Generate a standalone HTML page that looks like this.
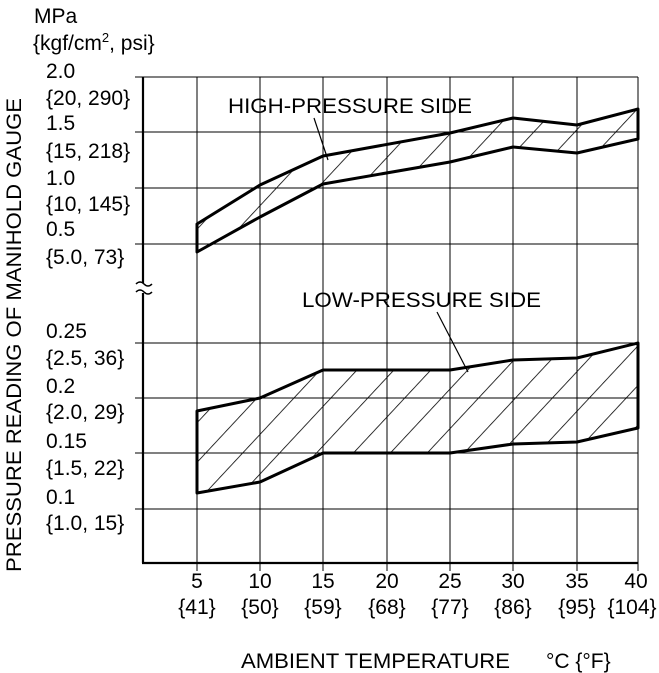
<!DOCTYPE html>
<html><head><meta charset="utf-8"><style>
html,body{margin:0;padding:0;background:#fff;}
svg{display:block;font-family:"Liberation Sans",sans-serif;}
</style></head><body>
<svg width="659" height="673" viewBox="0 0 659 673" xmlns="http://www.w3.org/2000/svg">
<defs>
<pattern id="h1" patternUnits="userSpaceOnUse" width="30" height="30" patternTransform="rotate(43)">
<line x1="0" y1="0" x2="0" y2="30" stroke="#000" stroke-width="1.6"/></pattern>
<pattern id="h2" patternUnits="userSpaceOnUse" width="27" height="27" patternTransform="rotate(43)">
<line x1="0" y1="0" x2="0" y2="27" stroke="#000" stroke-width="1.6"/></pattern>
</defs>
<g stroke="#000" stroke-width="1" fill="none">
<line x1="197" y1="77" x2="197" y2="571"/>
<line x1="260" y1="77" x2="260" y2="571"/>
<line x1="323" y1="77" x2="323" y2="571"/>
<line x1="387" y1="77" x2="387" y2="571"/>
<line x1="450" y1="77" x2="450" y2="571"/>
<line x1="513" y1="77" x2="513" y2="571"/>
<line x1="577" y1="77" x2="577" y2="571"/>
<line x1="638" y1="77" x2="638" y2="571"/>
<line x1="135" y1="77" x2="638" y2="77"/>
<line x1="135" y1="132" x2="638" y2="132"/>
<line x1="135" y1="188" x2="638" y2="188"/>
<line x1="135" y1="244" x2="638" y2="244"/>
<line x1="135" y1="343" x2="638" y2="343"/>
<line x1="135" y1="398" x2="638" y2="398"/>
<line x1="135" y1="453" x2="638" y2="453"/>
<line x1="135" y1="509" x2="638" y2="509"/>
</g>
<g stroke="#000" stroke-width="2.2" fill="none">
<line x1="143" y1="77" x2="143" y2="283"/>
<line x1="143" y1="293" x2="143" y2="563"/>
<line x1="142" y1="563" x2="638" y2="563"/>
<path d="M136 284 q4 -4 8 0 q4 4 8 0 M136 292 q4 -4 8 0 q4 4 8 0" stroke-width="1.5"/>
</g>
<polygon points="197,224 260,185 323,156 450,133 513,118 577,125 638,109 638,139 577,153 513,147 450,162 323,184 260,217 197,252" fill="url(#h1)" stroke="#000" stroke-width="3" stroke-linejoin="round"/>
<polygon points="197,411 260,398 323,370 450,370 513,360 577,358 638,343 638,428 577,442 513,444 450,453 323,453 260,482 197,493" fill="url(#h2)" stroke="#000" stroke-width="3" stroke-linejoin="round"/>
<g stroke="#000" stroke-width="1.2">
<line x1="314" y1="118" x2="328" y2="160"/>
<line x1="437" y1="312" x2="468" y2="372"/>
</g>
<g font-size="21" fill="#000">
<text x="34" y="23">MPa</text>
<text x="33" y="50">{kgf/cm<tspan font-size="13" dy="-8">2</tspan><tspan dy="8">, psi}</tspan></text>
<text x="46" y="78">2.0</text><text x="46" y="105">{20, 290}</text>
<text x="46" y="130">1.5</text><text x="46" y="158">{15, 218}</text>
<text x="46" y="185">1.0</text><text x="46" y="211">{10, 145}</text>
<text x="46" y="236">0.5</text><text x="46" y="264">{5.0, 73}</text>
<text x="46" y="338">0.25</text><text x="46" y="365">{2.5, 36}</text>
<text x="46" y="393">0.2</text><text x="46" y="419">{2.0, 29}</text>
<text x="46" y="448">0.15</text><text x="46" y="475">{1.5, 22}</text>
<text x="46" y="504">0.1</text><text x="46" y="530">{1.0, 15}</text>
<text x="228" y="113" textLength="244" lengthAdjust="spacingAndGlyphs">HIGH-PRESSURE SIDE</text>
<text x="302" y="307" textLength="239" lengthAdjust="spacingAndGlyphs">LOW-PRESSURE SIDE</text>
<g text-anchor="middle">
<text x="197" y="588">5</text><text x="197" y="614">{41}</text>
<text x="260" y="588">10</text><text x="260" y="614">{50}</text>
<text x="323" y="588">15</text><text x="323" y="614">{59}</text>
<text x="387" y="588">20</text><text x="387" y="614">{68}</text>
<text x="450" y="588">25</text><text x="450" y="614">{77}</text>
<text x="513" y="588">30</text><text x="513" y="614">{86}</text>
<text x="577" y="588">35</text><text x="577" y="614">{95}</text>
<text x="636" y="588">40</text><text x="632" y="614">{104}</text>
</g>
<text x="241" y="668" textLength="269" lengthAdjust="spacingAndGlyphs">AMBIENT TEMPERATURE</text>
<text x="546" y="668">°C {°F}</text>
<text transform="translate(21,335) rotate(-90)" text-anchor="middle" textLength="474" lengthAdjust="spacingAndGlyphs">PRESSURE READING OF MANIHOLD GAUGE</text>
</g>
</svg>
</body></html>
